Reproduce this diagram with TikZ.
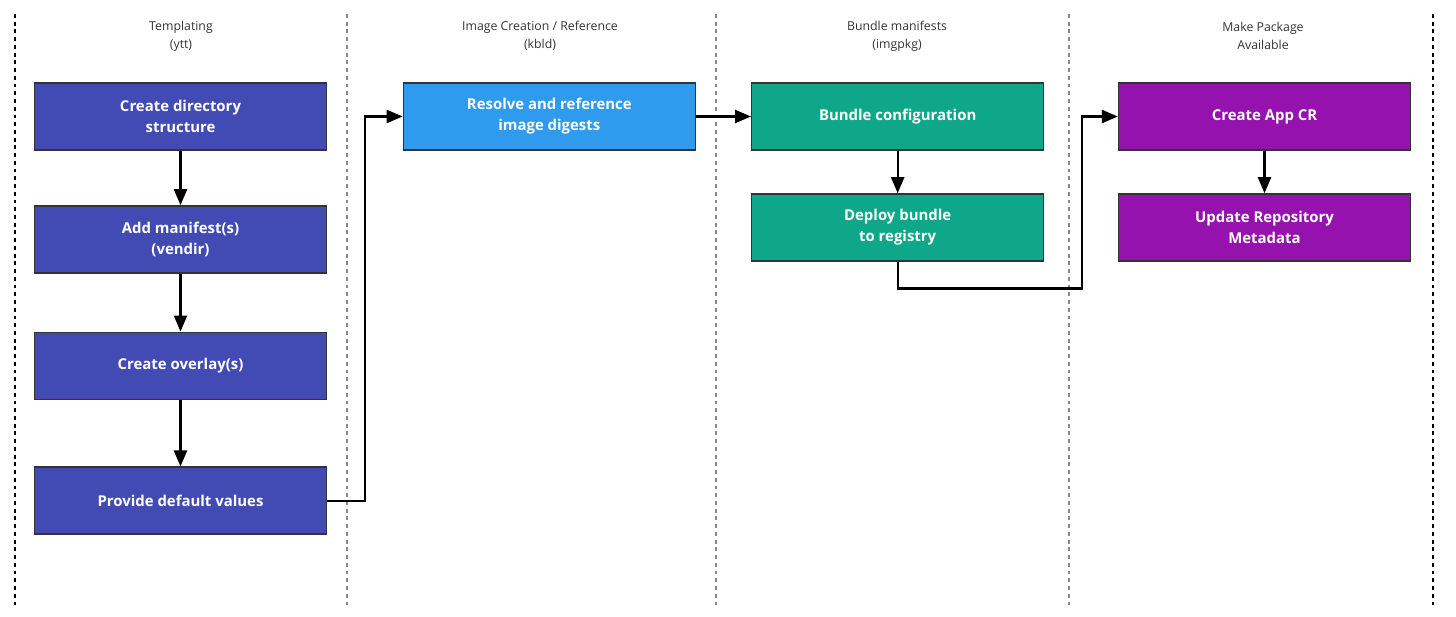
\documentclass[tikz,border=0pt]{standalone}
\usepackage{fontspec}
\setmainfont{Open Sans}
\usetikzlibrary{positioning,arrows.meta}
\definecolor{tplblue}{HTML}{424BB3}
\definecolor{kbldblue}{HTML}{2E9BEF}
\definecolor{pkggreen}{HTML}{0EA789}
\definecolor{apppurple}{HTML}{9612AE}
\definecolor{boxline}{HTML}{333333}
\definecolor{labelgray}{HTML}{333333}
\definecolor{sepgray}{HTML}{888888}

\begin{document}
\begin{tikzpicture}
[x=0.02cm, y=-0.02cm,
every node/.style={align=center},
stepbox/.style={draw=boxline, line width=0.8pt, minimum width=5.84cm, minimum height=1.34cm,
  text=white, font=\fontsize{8.5}{11.9}\selectfont\bfseries},
lane/.style={font=\fontsize{7}{10.3}\selectfont, text=labelgray},
flow/.style={line width=1.3pt, -{Triangle[length=0.32cm,width=0.26cm]}},
sep/.style={dash pattern=on 2.2pt off 2.2pt, line width=0.6pt}]
\useasboundingbox (0,0) rectangle (1456,616);

% lane separators
\foreach \x/\c in {15/black, 347/sepgray, 716/sepgray, 1069/sepgray, 1433/black}
  \draw[sep, \c] (\x,14) -- (\x,607);

% lane titles
\node[lane] (ltpl) at (181,36) {Templating\\(ytt)};
\node[lane] (lkbld) at (540,36) {Image Creation / Reference\\(kbld)};
\node[lane] (limg) at (897,36) {Bundle manifests\\(imgpkg)};
\node[lane] (lpkg) at (1263,36) {Make Package\\Available};

% templating
\node[stepbox, fill=tplblue] (mkdir) at (180.5,116.5) {Create directory\\structure};
\node[stepbox, fill=tplblue, below=1.09cm of mkdir] (addman) {Add manifest(s)\\(vendir)};
\node[stepbox, fill=tplblue, below=1.16cm of addman] (overlay) {Create overlay(s)};
\node[stepbox, fill=tplblue, below=1.33cm of overlay] (defaults) {Provide default values};

% kbld
\node[stepbox, fill=kbldblue, right=1.51cm of mkdir] (digest) {Resolve and reference\\image digests};

% imgpkg
\node[stepbox, fill=pkggreen, right=1.1cm of digest] (bundle) {Bundle configuration};
\node[stepbox, fill=pkggreen, below=0.85cm of bundle] (push) {Deploy bundle\\to registry};

% package
\node[stepbox, fill=apppurple, right=1.47cm of bundle] (appcr) {Create App CR};
\node[stepbox, fill=apppurple, below=0.85cm of appcr] (repo) {Update Repository\\Metadata};

\draw[flow] (mkdir) -- (addman);
\draw[flow] (addman) -- (overlay);
\draw[flow] (overlay) -- (defaults);
\draw[flow] (defaults.east) -- ++(0.76cm,0) |- (digest.west);
\draw[flow] (digest) -- (bundle);
\draw[flow] (bundle) -- (push);
\draw[flow] (push.south) -- ++(0,-0.54cm) -- ++(3.68cm,0) |- (appcr.west);
\draw[flow] (appcr) -- (repo);
\end{tikzpicture}
\end{document}
